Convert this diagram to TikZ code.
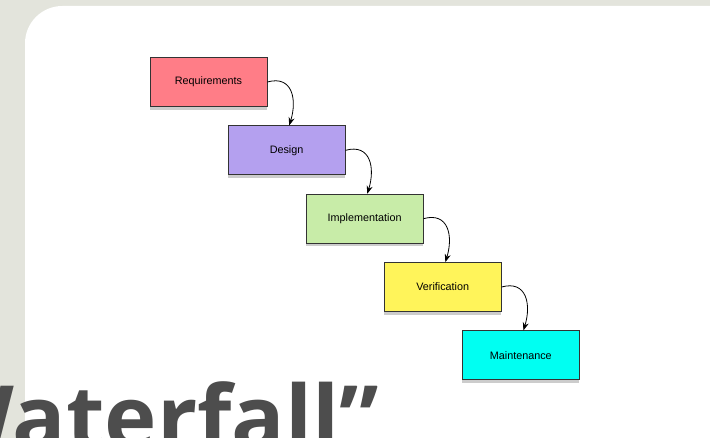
\documentclass[tikz,border=0pt]{standalone}
\usepackage{fontspec}
\setmainfont{Liberation Sans}
\newfontfamily\titlefont{Open Sans}
\usetikzlibrary{shadows,arrows.meta,positioning}
\definecolor{bggray}{HTML}{E3E4DC}
\definecolor{titlegray}{HTML}{4D4D4D}
\definecolor{reqred}{HTML}{FF7D87}
\definecolor{despurple}{HTML}{B4A0EF}
\definecolor{impgreen}{HTML}{C8ECA8}
\definecolor{veryellow}{HTML}{FFF45A}
\definecolor{maincyan}{HTML}{00FFF2}

\begin{document}
\begin{tikzpicture}
[x=.75pt,y=-.75pt,
stage/.style={draw=black!80,line width=.6pt,minimum width=87.75pt,minimum height=36.75pt,
  inner sep=0pt,font=\fontsize{8.1}{10}\selectfont,
  drop shadow={shadow xshift=0pt,shadow yshift=-2.5pt,opacity=.4}},
flow/.style={black,line width=.6pt,-{Stealth[length=6pt,width=4.5pt]}},
title/.style={font=\titlefont\bfseries\fontsize{66.5}{66.5}\selectfont,text=titlegray,inner sep=0pt}]
%% slide background
\useasboundingbox (0,0) rectangle (710,438);
\fill[bggray] (0,0) rectangle (710,438);
\fill[white,rounded corners=28pt] (25,6) rectangle (780,520);
%%
\node[stage,fill=reqred] (req) at (208.5,82) {Requirements};
\node[stage,fill=despurple,below right=13.9pt and -29.8pt of req] (des) {Design};
\node[stage,fill=impgreen,below right=13.9pt and -29.8pt of des] (imp) {Implementation};
\node[stage,fill=veryellow,below right=13.9pt and -29.8pt of imp] (ver) {Verification};
\node[stage,fill=maincyan,below right=13.9pt and -29.8pt of ver] (mnt) {Maintenance};
%%
\draw[flow] (req.east) .. controls +(25,-7) and +(8,-26) .. ([xshift=2pt]des.north);
\draw[flow] (des.east) .. controls +(25,-7) and +(8,-26) .. ([xshift=2pt]imp.north);
\draw[flow] (imp.east) .. controls +(25,-7) and +(8,-26) .. ([xshift=2pt]ver.north);
\draw[flow] (ver.east) .. controls +(25,-7) and +(8,-26) .. ([xshift=2pt]mnt.north);
%%
\node[title,anchor=base east] (ttl) at (379,449) {“Waterfall”};
\end{tikzpicture}
\end{document}
